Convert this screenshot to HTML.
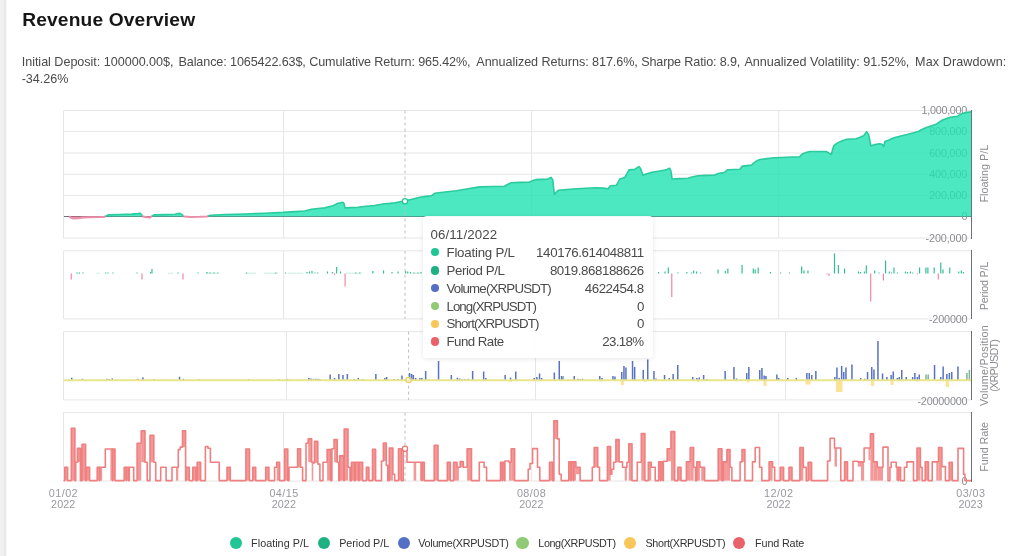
<!DOCTYPE html>
<html lang="en"><head><meta charset="utf-8"><title>Revenue Overview</title>
<style>
html,body{margin:0;padding:0;background:#fff;}
body{width:1024px;height:556px;position:relative;overflow:hidden;font-family:"Liberation Sans",Arial,sans-serif;}
span{white-space:nowrap;}
h1,.stats,.tip,.lg,svg{will-change:transform;}
.strip{position:absolute;left:0;top:0;width:8px;height:556px;background:linear-gradient(to right,#f0f0f0 0,#f0f0f0 3.4px,#e8e8e8 4.2px,#e9e9e9 5.4px,#fff 7.2px);}
h1{position:absolute;left:0;top:8px;width:600px;height:24px;margin:0;font-size:19.2px;line-height:24px;font-weight:bold;color:#161616;}
h1 span{position:absolute;top:0;}
.stats{position:absolute;left:0;top:0;width:1024px;height:100px;margin:0;font-size:12.6px;line-height:16px;color:#4a4a4a;}
.stats span{position:absolute;top:54px;}
.stats span.l2{top:71px;}
.tipbg{position:absolute;left:423px;top:215.7px;width:230px;height:142.8px;background:rgba(255,255,255,0.93);border-radius:4px;box-shadow:0 1px 5px rgba(0,0,0,0.10);}
.tip{position:absolute;left:423px;top:216px;width:230px;height:142px;color:#4a4a4a;font-size:13.3px;}
.tip span{position:absolute;line-height:17px;}
.tip i{position:absolute;left:7.9px;width:8.6px;height:8.6px;border-radius:50%;}
.tip b{font-weight:normal;}
.lg{position:absolute;left:0;top:0;width:1024px;height:556px;font-size:10.8px;color:#333;pointer-events:none;}
.lg i{position:absolute;top:537px;width:12.2px;height:12.2px;border-radius:50%;}
.lg span{position:absolute;top:535.4px;line-height:16px;}
</style></head><body>
<div class="strip"></div>
<h1><span id="t_title" style="left:22.2px;letter-spacing:0.15px;">Revenue Overview</span></h1>
<p class="stats"><span id="t_s1" style="left:21.7px;letter-spacing:-0.03px;">Initial Deposit: 100000.00$,</span>
<span id="t_s2" style="left:178.5px;letter-spacing:-0.11px;">Balance: 1065422.63$,</span>
<span id="t_s3" style="left:309.2px;letter-spacing:-0.12px;">Cumulative Return: 965.42%,</span>
<span id="t_s4" style="left:476.3px;letter-spacing:-0.06px;">Annualized Returns: 817.6%,</span>
<span id="t_s5" style="left:641.2px;letter-spacing:-0.14px;">Sharpe Ratio: 8.9,</span>
<span id="t_s6" style="left:744.4px;letter-spacing:-0.01px;">Annualized Volatility: 91.52%,</span>
<span id="t_s7" style="left:915.1px;letter-spacing:0.08px;">Max Drawdown:</span>
<span class="l2" id="t_s8" style="left:21.7px;letter-spacing:-0.04px;">-34.26%</span></p>
<svg width="1024" height="556" viewBox="0 0 1024 556" style="position:absolute;left:0;top:0">
<g stroke="#e6e6e7" stroke-width="1" fill="none">
<line x1="63.5" x2="971" y1="110.5" y2="110.5"/>
<line x1="63.5" x2="971" y1="131.4" y2="131.4"/>
<line x1="63.5" x2="971" y1="153" y2="153"/>
<line x1="63.5" x2="971" y1="174.3" y2="174.3"/>
<line x1="63.5" x2="971" y1="195.4" y2="195.4"/>
<line x1="63.5" x2="971" y1="216.5" y2="216.5"/>
<line x1="63.5" x2="971" y1="238" y2="238"/>
<line x1="63.5" x2="63.5" y1="110.5" y2="238"/>
<line x1="283.6" x2="283.6" y1="110.5" y2="238"/>
<line x1="531.6" x2="531.6" y1="110.5" y2="238"/>
<line x1="778.7" x2="778.7" y1="110.5" y2="238"/>
<line x1="63.5" x2="63.5" y1="250.8" y2="318.9"/>
<line x1="283.6" x2="283.6" y1="250.8" y2="318.9"/>
<line x1="531.6" x2="531.6" y1="250.8" y2="318.9"/>
<line x1="778.7" x2="778.7" y1="250.8" y2="318.9"/>
<line x1="63.5" x2="63.5" y1="331.6" y2="399.9"/>
<line x1="286.5" x2="286.5" y1="331.6" y2="399.9"/>
<line x1="535.5" x2="535.5" y1="331.6" y2="399.9"/>
<line x1="785.5" x2="785.5" y1="331.6" y2="399.9"/>
<line x1="63.5" x2="63.5" y1="412.6" y2="481"/>
<line x1="283.6" x2="283.6" y1="412.6" y2="481"/>
<line x1="531.6" x2="531.6" y1="412.6" y2="481"/>
<line x1="778.7" x2="778.7" y1="412.6" y2="481"/>
<line x1="63.5" x2="971" y1="250.8" y2="250.8"/>
<line x1="63.5" x2="971" y1="318.9" y2="318.9"/>
<line x1="63.5" x2="971" y1="331.6" y2="331.6"/>
<line x1="63.5" x2="971" y1="399.9" y2="399.9"/>
<line x1="63.5" x2="971" y1="412.6" y2="412.6"/>
<line x1="63.5" x2="971" y1="481" y2="481"/>
</g>
<g stroke="#6E7079" stroke-width="1" shape-rendering="crispEdges">
<line x1="971.5" x2="971.5" y1="110" y2="238.5"/>
<line x1="971.5" x2="971.5" y1="250.3" y2="319.4"/>
<line x1="971.5" x2="971.5" y1="331.1" y2="400.4"/>
<line x1="971.5" x2="971.5" y1="412.1" y2="481.5"/>
<line x1="63.5" x2="971" y1="216.4" y2="216.4"/>
</g>
<g font-family="Liberation Sans, Arial, sans-serif" font-size="10.8" fill="#8b8c91">
<text x="921.6" y="114.3" textLength="45.7" lengthAdjust="spacing">1,000,000</text>
<text x="929.2" y="135.2" textLength="38.1" lengthAdjust="spacing">800,000</text>
<text x="929.2" y="156.8" textLength="38.1" lengthAdjust="spacing">600,000</text>
<text x="929.2" y="178.1" textLength="38.1" lengthAdjust="spacing">400,000</text>
<text x="929.2" y="199.2" textLength="38.1" lengthAdjust="spacing">200,000</text>
<text x="961.6" y="220.3" textLength="5.7" lengthAdjust="spacing">0</text>
<text x="925.6" y="241.8" textLength="41.7" lengthAdjust="spacing">-200,000</text>
<text x="928.9" y="323.2" textLength="38.7" lengthAdjust="spacing">-200000</text>
<text x="917.4" y="404.5" textLength="50.2" lengthAdjust="spacing">-20000000</text>
<text x="961.6" y="484.6" textLength="5.7" lengthAdjust="spacing">0</text>
</g>
<g font-family="Liberation Sans, Arial, sans-serif" font-size="10.8" fill="#8b8c91">
<text transform="translate(988,202.6) rotate(-90)" textLength="57.8" lengthAdjust="spacing">Floating P/L</text>
<text transform="translate(988,310.15) rotate(-90)" textLength="48.5" lengthAdjust="spacing">Period P/L</text>
<text transform="translate(988,406.1) rotate(-90)" textLength="80.8" lengthAdjust="spacing">Volume/Position</text>
<text transform="translate(997.8,391.7) rotate(-90)" textLength="52.6" lengthAdjust="spacing">(XRPUSDT)</text>
<text transform="translate(987.8,471.7) rotate(-90)" textLength="49.8" lengthAdjust="spacing">Fund Rate</text>
</g>
<g font-family="Liberation Sans, Arial, sans-serif" font-size="10.8" fill="#98999e">
<text x="48.8" y="496.9" textLength="28.8" lengthAdjust="spacing">01/02</text>
<text x="51.1" y="508" textLength="24.2" lengthAdjust="spacing">2022</text>
<text x="269.4" y="496.9" textLength="28.8" lengthAdjust="spacing">04/15</text>
<text x="271.7" y="508" textLength="24.2" lengthAdjust="spacing">2022</text>
<text x="516.9" y="496.9" textLength="28.8" lengthAdjust="spacing">08/08</text>
<text x="519.2" y="508" textLength="24.2" lengthAdjust="spacing">2022</text>
<text x="764.1" y="496.9" textLength="28.8" lengthAdjust="spacing">12/02</text>
<text x="766.4" y="508" textLength="24.2" lengthAdjust="spacing">2022</text>
<text x="956.2" y="496.9" textLength="28.8" lengthAdjust="spacing">03/03</text>
<text x="958.5" y="508" textLength="24.2" lengthAdjust="spacing">2023</text>
</g>
<defs><clipPath id="cp"><rect x="105.4" y="90" width="37" height="160"/><rect x="152" y="90" width="31.4" height="160"/><rect x="208.2" y="90" width="815.8" height="160"/></clipPath><clipPath id="cn"><rect x="69" y="90" width="36.4" height="160"/><rect x="142.4" y="90" width="9.6" height="160"/><rect x="183.4" y="90" width="24.8" height="160"/></clipPath></defs>
<g clip-path="url(#cp)"><path d="M63.5,216.4 L63.5,216.4 L66,216.4 L69,216.6 L71,217.7 L73.5,218.5 L78,218.3 L83,217.6 L90,217.3 L100,217.1 L104.3,216.9 L105.5,216.2 L108,214.9 L120,214.5 L132,214.1 L138,213.6 L140,213.2 L141.5,214.5 L143,216.6 L147,217.2 L150,217.4 L152,216.2 L154,214.9 L165,214.6 L175,214.2 L178,213.5 L180,213.3 L182,214.6 L184,216.4 L190,216.9 L200,216.8 L207,216.5 L209,215.6 L215,215 L225,214.5 L245,214 L265,213.2 L283,212.4 L295,211.6 L304.7,211 L311.4,209.2 L318,208.5 L324.7,207.9 L329,206.8 L333,205.7 L336,204.2 L338,203.2 L343,202.4 L344,203.5 L345,207.9 L350,207.6 L358,207.2 L366,206.3 L374.5,205.5 L380,204.5 L384.5,203.7 L390,203.4 L395,202.9 L400,201.8 L405,200.9 L412,199.2 L420,197.3 L426,196.4 L431.5,195.7 L433,194.6 L434.9,193.2 L445,192 L456.4,190.7 L468,188.7 L479.7,186.9 L492,186.5 L504.6,186.2 L508,184.2 L511.3,182.7 L520,182.4 L529.5,182.1 L533,180.6 L536.2,179.6 L542,179.4 L547.8,179.2 L549.5,178.1 L551.1,177.4 L552.8,179.9 L553.6,188 L554.5,194.5 L556,192.5 L558.3,190.3 L567,189.5 L576.6,188.7 L586,188.2 L596.5,187.7 L603,188.1 L608.2,188.7 L609.4,187 L610.6,185.7 L616.5,185.2 L618,182.5 L619.8,179 L624.8,177.4 L626.5,174.5 L628.9,169.9 L634.7,169.4 L637,167.8 L638.9,166.6 L640.5,168.2 L641.8,171.9 L643,175.2 L646,174 L649.7,172.9 L655,171.8 L661.3,170.7 L666.3,169.9 L668,168.8 L669.6,168.2 L670.8,170.7 L671.5,175 L672.1,179 L680,178.6 L687.9,178.2 L693,176.8 L697.9,175.7 L706,175.4 L714.5,175.2 L717,174.1 L719.5,173.2 L725,172.3 L726,171 L727.5,169.8 L734,169.5 L740,169.3 L741.2,167.5 L742.4,166.1 L747,165.6 L751.6,165.1 L753.6,163.2 L755.7,161.5 L759.9,159.5 L767,158.6 L774.8,157.8 L787,157.3 L799.7,156.8 L801,155.2 L802.2,154 L806,152.6 L809.7,151.5 L818,151.5 L826.3,151.5 L829,153.1 L831.3,154.5 L832.5,150 L833.8,145.7 L836.5,143.6 L839.6,141.9 L843,140.5 L846.2,139.4 L851,139 L856.2,138.7 L860,137.3 L863.7,135.7 L865.3,133.5 L866.5,131.6 L868.7,134.9 L869.8,140.5 L870.8,145.7 L875,144.6 L879.5,143.7 L882,144.3 L883.8,146.4 L884.9,141.5 L889,139.9 L894,137.8 L900,136.2 L907,134.5 L913,132.9 L918.8,131.3 L922.5,129.3 L926.4,127.5 L931,125.9 L936.1,124.3 L939.5,122 L942.6,120 L946.5,118.5 L950.1,117.3 L954,116.7 L957.7,116.2 L960,114.7 L962,113.5 L966,112.6 L971,111.9 L971,216.4 Z" fill="#24e3b3" fill-opacity="0.82"/><path d="M63.5,216.4 L66,216.4 L69,216.6 L71,217.7 L73.5,218.5 L78,218.3 L83,217.6 L90,217.3 L100,217.1 L104.3,216.9 L105.5,216.2 L108,214.9 L120,214.5 L132,214.1 L138,213.6 L140,213.2 L141.5,214.5 L143,216.6 L147,217.2 L150,217.4 L152,216.2 L154,214.9 L165,214.6 L175,214.2 L178,213.5 L180,213.3 L182,214.6 L184,216.4 L190,216.9 L200,216.8 L207,216.5 L209,215.6 L215,215 L225,214.5 L245,214 L265,213.2 L283,212.4 L295,211.6 L304.7,211 L311.4,209.2 L318,208.5 L324.7,207.9 L329,206.8 L333,205.7 L336,204.2 L338,203.2 L343,202.4 L344,203.5 L345,207.9 L350,207.6 L358,207.2 L366,206.3 L374.5,205.5 L380,204.5 L384.5,203.7 L390,203.4 L395,202.9 L400,201.8 L405,200.9 L412,199.2 L420,197.3 L426,196.4 L431.5,195.7 L433,194.6 L434.9,193.2 L445,192 L456.4,190.7 L468,188.7 L479.7,186.9 L492,186.5 L504.6,186.2 L508,184.2 L511.3,182.7 L520,182.4 L529.5,182.1 L533,180.6 L536.2,179.6 L542,179.4 L547.8,179.2 L549.5,178.1 L551.1,177.4 L552.8,179.9 L553.6,188 L554.5,194.5 L556,192.5 L558.3,190.3 L567,189.5 L576.6,188.7 L586,188.2 L596.5,187.7 L603,188.1 L608.2,188.7 L609.4,187 L610.6,185.7 L616.5,185.2 L618,182.5 L619.8,179 L624.8,177.4 L626.5,174.5 L628.9,169.9 L634.7,169.4 L637,167.8 L638.9,166.6 L640.5,168.2 L641.8,171.9 L643,175.2 L646,174 L649.7,172.9 L655,171.8 L661.3,170.7 L666.3,169.9 L668,168.8 L669.6,168.2 L670.8,170.7 L671.5,175 L672.1,179 L680,178.6 L687.9,178.2 L693,176.8 L697.9,175.7 L706,175.4 L714.5,175.2 L717,174.1 L719.5,173.2 L725,172.3 L726,171 L727.5,169.8 L734,169.5 L740,169.3 L741.2,167.5 L742.4,166.1 L747,165.6 L751.6,165.1 L753.6,163.2 L755.7,161.5 L759.9,159.5 L767,158.6 L774.8,157.8 L787,157.3 L799.7,156.8 L801,155.2 L802.2,154 L806,152.6 L809.7,151.5 L818,151.5 L826.3,151.5 L829,153.1 L831.3,154.5 L832.5,150 L833.8,145.7 L836.5,143.6 L839.6,141.9 L843,140.5 L846.2,139.4 L851,139 L856.2,138.7 L860,137.3 L863.7,135.7 L865.3,133.5 L866.5,131.6 L868.7,134.9 L869.8,140.5 L870.8,145.7 L875,144.6 L879.5,143.7 L882,144.3 L883.8,146.4 L884.9,141.5 L889,139.9 L894,137.8 L900,136.2 L907,134.5 L913,132.9 L918.8,131.3 L922.5,129.3 L926.4,127.5 L931,125.9 L936.1,124.3 L939.5,122 L942.6,120 L946.5,118.5 L950.1,117.3 L954,116.7 L957.7,116.2 L960,114.7 L962,113.5 L966,112.6 L971,111.9" fill="none" stroke="#2ccb9e" stroke-width="1.6" stroke-linejoin="round"/></g>
<g clip-path="url(#cn)"><path d="M63.5,216.4 L63.5,216.4 L66,216.4 L69,216.6 L71,217.7 L73.5,218.5 L78,218.3 L83,217.6 L90,217.3 L100,217.1 L104.3,216.9 L105.5,216.2 L108,214.9 L120,214.5 L132,214.1 L138,213.6 L140,213.2 L141.5,214.5 L143,216.6 L147,217.2 L150,217.4 L152,216.2 L154,214.9 L165,214.6 L175,214.2 L178,213.5 L180,213.3 L182,214.6 L184,216.4 L190,216.9 L200,216.8 L207,216.5 L209,215.6 L215,215 L225,214.5 L245,214 L265,213.2 L283,212.4 L295,211.6 L304.7,211 L311.4,209.2 L318,208.5 L324.7,207.9 L329,206.8 L333,205.7 L336,204.2 L338,203.2 L343,202.4 L344,203.5 L345,207.9 L350,207.6 L358,207.2 L366,206.3 L374.5,205.5 L380,204.5 L384.5,203.7 L390,203.4 L395,202.9 L400,201.8 L405,200.9 L412,199.2 L420,197.3 L426,196.4 L431.5,195.7 L433,194.6 L434.9,193.2 L445,192 L456.4,190.7 L468,188.7 L479.7,186.9 L492,186.5 L504.6,186.2 L508,184.2 L511.3,182.7 L520,182.4 L529.5,182.1 L533,180.6 L536.2,179.6 L542,179.4 L547.8,179.2 L549.5,178.1 L551.1,177.4 L552.8,179.9 L553.6,188 L554.5,194.5 L556,192.5 L558.3,190.3 L567,189.5 L576.6,188.7 L586,188.2 L596.5,187.7 L603,188.1 L608.2,188.7 L609.4,187 L610.6,185.7 L616.5,185.2 L618,182.5 L619.8,179 L624.8,177.4 L626.5,174.5 L628.9,169.9 L634.7,169.4 L637,167.8 L638.9,166.6 L640.5,168.2 L641.8,171.9 L643,175.2 L646,174 L649.7,172.9 L655,171.8 L661.3,170.7 L666.3,169.9 L668,168.8 L669.6,168.2 L670.8,170.7 L671.5,175 L672.1,179 L680,178.6 L687.9,178.2 L693,176.8 L697.9,175.7 L706,175.4 L714.5,175.2 L717,174.1 L719.5,173.2 L725,172.3 L726,171 L727.5,169.8 L734,169.5 L740,169.3 L741.2,167.5 L742.4,166.1 L747,165.6 L751.6,165.1 L753.6,163.2 L755.7,161.5 L759.9,159.5 L767,158.6 L774.8,157.8 L787,157.3 L799.7,156.8 L801,155.2 L802.2,154 L806,152.6 L809.7,151.5 L818,151.5 L826.3,151.5 L829,153.1 L831.3,154.5 L832.5,150 L833.8,145.7 L836.5,143.6 L839.6,141.9 L843,140.5 L846.2,139.4 L851,139 L856.2,138.7 L860,137.3 L863.7,135.7 L865.3,133.5 L866.5,131.6 L868.7,134.9 L869.8,140.5 L870.8,145.7 L875,144.6 L879.5,143.7 L882,144.3 L883.8,146.4 L884.9,141.5 L889,139.9 L894,137.8 L900,136.2 L907,134.5 L913,132.9 L918.8,131.3 L922.5,129.3 L926.4,127.5 L931,125.9 L936.1,124.3 L939.5,122 L942.6,120 L946.5,118.5 L950.1,117.3 L954,116.7 L957.7,116.2 L960,114.7 L962,113.5 L966,112.6 L971,111.9 L971,216.4 Z" fill="#f0698c" fill-opacity="0.75"/><path d="M63.5,216.4 L66,216.4 L69,216.6 L71,217.7 L73.5,218.5 L78,218.3 L83,217.6 L90,217.3 L100,217.1 L104.3,216.9 L105.5,216.2 L108,214.9 L120,214.5 L132,214.1 L138,213.6 L140,213.2 L141.5,214.5 L143,216.6 L147,217.2 L150,217.4 L152,216.2 L154,214.9 L165,214.6 L175,214.2 L178,213.5 L180,213.3 L182,214.6 L184,216.4 L190,216.9 L200,216.8 L207,216.5 L209,215.6 L215,215 L225,214.5 L245,214 L265,213.2 L283,212.4 L295,211.6 L304.7,211 L311.4,209.2 L318,208.5 L324.7,207.9 L329,206.8 L333,205.7 L336,204.2 L338,203.2 L343,202.4 L344,203.5 L345,207.9 L350,207.6 L358,207.2 L366,206.3 L374.5,205.5 L380,204.5 L384.5,203.7 L390,203.4 L395,202.9 L400,201.8 L405,200.9 L412,199.2 L420,197.3 L426,196.4 L431.5,195.7 L433,194.6 L434.9,193.2 L445,192 L456.4,190.7 L468,188.7 L479.7,186.9 L492,186.5 L504.6,186.2 L508,184.2 L511.3,182.7 L520,182.4 L529.5,182.1 L533,180.6 L536.2,179.6 L542,179.4 L547.8,179.2 L549.5,178.1 L551.1,177.4 L552.8,179.9 L553.6,188 L554.5,194.5 L556,192.5 L558.3,190.3 L567,189.5 L576.6,188.7 L586,188.2 L596.5,187.7 L603,188.1 L608.2,188.7 L609.4,187 L610.6,185.7 L616.5,185.2 L618,182.5 L619.8,179 L624.8,177.4 L626.5,174.5 L628.9,169.9 L634.7,169.4 L637,167.8 L638.9,166.6 L640.5,168.2 L641.8,171.9 L643,175.2 L646,174 L649.7,172.9 L655,171.8 L661.3,170.7 L666.3,169.9 L668,168.8 L669.6,168.2 L670.8,170.7 L671.5,175 L672.1,179 L680,178.6 L687.9,178.2 L693,176.8 L697.9,175.7 L706,175.4 L714.5,175.2 L717,174.1 L719.5,173.2 L725,172.3 L726,171 L727.5,169.8 L734,169.5 L740,169.3 L741.2,167.5 L742.4,166.1 L747,165.6 L751.6,165.1 L753.6,163.2 L755.7,161.5 L759.9,159.5 L767,158.6 L774.8,157.8 L787,157.3 L799.7,156.8 L801,155.2 L802.2,154 L806,152.6 L809.7,151.5 L818,151.5 L826.3,151.5 L829,153.1 L831.3,154.5 L832.5,150 L833.8,145.7 L836.5,143.6 L839.6,141.9 L843,140.5 L846.2,139.4 L851,139 L856.2,138.7 L860,137.3 L863.7,135.7 L865.3,133.5 L866.5,131.6 L868.7,134.9 L869.8,140.5 L870.8,145.7 L875,144.6 L879.5,143.7 L882,144.3 L883.8,146.4 L884.9,141.5 L889,139.9 L894,137.8 L900,136.2 L907,134.5 L913,132.9 L918.8,131.3 L922.5,129.3 L926.4,127.5 L931,125.9 L936.1,124.3 L939.5,122 L942.6,120 L946.5,118.5 L950.1,117.3 L954,116.7 L957.7,116.2 L960,114.7 L962,113.5 L966,112.6 L971,111.9" fill="none" stroke="#ee8eab" stroke-width="2" stroke-linejoin="round"/></g>
<g>
<path d="M76.6,273.2 H80 M96.5,273.2 H100 M168,273.2 H173 M206,273.2 H218 M245.5,273.2 H256 M264,273.2 H277.7 M287.5,273.2 H303 M346,273.2 H361.7 M412.5,273.2 H420" stroke="#c4eadd" stroke-width="0.9" fill="none"/>
<rect x="70.7" y="273.5" width="1.15" height="6" fill="#ef839d"/>
<rect x="76.4" y="272.5" width="1.15" height="1" fill="#2bbd93"/>
<rect x="78.9" y="272.5" width="1.15" height="1" fill="#2bbd93"/>
<rect x="82.4" y="272.5" width="1.15" height="1" fill="#2bbd93"/>
<rect x="105.1" y="272.5" width="1.15" height="1" fill="#2bbd93"/>
<rect x="107.4" y="272.5" width="1.15" height="1" fill="#2bbd93"/>
<rect x="112.4" y="272.5" width="1.15" height="1" fill="#2bbd93"/>
<rect x="136.4" y="272.5" width="1.15" height="1" fill="#2bbd93"/>
<rect x="141.4" y="273.5" width="1.15" height="6" fill="#ef839d"/>
<rect x="149.9" y="272" width="1.15" height="1.5" fill="#2bbd93"/>
<rect x="151.4" y="269" width="1.15" height="4.5" fill="#2bbd93"/>
<rect x="177.4" y="272.5" width="1.15" height="1" fill="#2bbd93"/>
<rect x="182.4" y="273.5" width="1.15" height="6" fill="#ef839d"/>
<rect x="197.4" y="272.5" width="1.15" height="1" fill="#2bbd93"/>
<rect x="206.4" y="272" width="1.15" height="1.5" fill="#2bbd93"/>
<rect x="209.4" y="272.5" width="1.15" height="1" fill="#2bbd93"/>
<rect x="213.4" y="272.5" width="1.15" height="1" fill="#2bbd93"/>
<rect x="217.4" y="272.5" width="1.15" height="1" fill="#2bbd93"/>
<rect x="245.9" y="272.5" width="1.15" height="1" fill="#2bbd93"/>
<rect x="275.2" y="272.5" width="1.15" height="1" fill="#2bbd93"/>
<rect x="284.9" y="272.5" width="1.15" height="1" fill="#2bbd93"/>
<rect x="306.4" y="272" width="1.15" height="1.5" fill="#2bbd93"/>
<rect x="308.9" y="271.5" width="1.15" height="2" fill="#2bbd93"/>
<rect x="311.4" y="271" width="1.15" height="2.5" fill="#2bbd93"/>
<rect x="314.4" y="272.5" width="1.15" height="1" fill="#2bbd93"/>
<rect x="317.2" y="272.5" width="1.15" height="1" fill="#2bbd93"/>
<rect x="326.9" y="271.5" width="1.15" height="2" fill="#2bbd93"/>
<rect x="331.8" y="272" width="1.15" height="1.5" fill="#2bbd93"/>
<rect x="334" y="273.5" width="1.15" height="1.5" fill="#ef839d"/>
<rect x="336.1" y="267" width="1.15" height="6.5" fill="#2bbd93"/>
<rect x="340" y="271.5" width="1.15" height="2" fill="#2bbd93"/>
<rect x="344.5" y="273.5" width="1.15" height="13" fill="#ef839d"/>
<rect x="355.3" y="272.5" width="1.15" height="1" fill="#2bbd93"/>
<rect x="359.2" y="272.5" width="1.15" height="1" fill="#2bbd93"/>
<rect x="372.3" y="271" width="1.15" height="2.5" fill="#2bbd93"/>
<rect x="383" y="270.5" width="1.15" height="3" fill="#2bbd93"/>
<rect x="391.4" y="272" width="1.15" height="1.5" fill="#2bbd93"/>
<rect x="397.6" y="271.5" width="1.15" height="2" fill="#2bbd93"/>
<rect x="405.1" y="271" width="1.15" height="2.5" fill="#2bbd93"/>
<rect x="407.2" y="271.5" width="1.15" height="2" fill="#2bbd93"/>
<rect x="409.9" y="272" width="1.15" height="1.5" fill="#2bbd93"/>
<rect x="413.4" y="272.5" width="1.15" height="1" fill="#2bbd93"/>
<rect x="417.4" y="272.5" width="1.15" height="1" fill="#2bbd93"/>
<rect x="420.4" y="272" width="1.15" height="1.5" fill="#2bbd93"/>
<rect x="658" y="272" width="1.15" height="1.5" fill="#2bbd93"/>
<rect x="664.4" y="271.5" width="1.15" height="2" fill="#2bbd93"/>
<rect x="667.7" y="267.5" width="1.15" height="6" fill="#2bbd93"/>
<rect x="671.2" y="273.5" width="1.15" height="23.5" fill="#ef839d"/>
<rect x="677.4" y="272.5" width="1.15" height="1" fill="#2bbd93"/>
<rect x="686.3" y="272" width="1.15" height="1.5" fill="#2bbd93"/>
<rect x="690.9" y="272.5" width="1.15" height="1" fill="#2bbd93"/>
<rect x="693.1" y="270.5" width="1.15" height="3" fill="#2bbd93"/>
<rect x="696" y="271.5" width="1.15" height="2" fill="#2bbd93"/>
<rect x="699.9" y="272.5" width="1.15" height="1" fill="#2bbd93"/>
<rect x="717.5" y="269.5" width="1.15" height="4" fill="#2bbd93"/>
<rect x="724.8" y="271" width="1.15" height="2.5" fill="#2bbd93"/>
<rect x="727.3" y="268.5" width="1.15" height="5" fill="#2bbd93"/>
<rect x="741.5" y="265" width="1.15" height="8.5" fill="#2bbd93"/>
<rect x="752.7" y="268.5" width="1.15" height="5" fill="#2bbd93"/>
<rect x="754.6" y="269.5" width="1.15" height="4" fill="#2bbd93"/>
<rect x="757.6" y="267.5" width="1.15" height="6" fill="#2bbd93"/>
<rect x="769.9" y="272" width="1.15" height="1.5" fill="#2bbd93"/>
<rect x="780" y="272.5" width="1.15" height="1" fill="#2bbd93"/>
<rect x="788.8" y="272.5" width="1.15" height="1" fill="#2bbd93"/>
<rect x="801.1" y="266.5" width="1.15" height="7" fill="#2bbd93"/>
<rect x="803.4" y="270.5" width="1.15" height="3" fill="#2bbd93"/>
<rect x="807.4" y="270.5" width="1.15" height="3" fill="#2bbd93"/>
<rect x="826.4" y="273.5" width="1.15" height="1" fill="#ef839d"/>
<rect x="828.4" y="273.5" width="1.15" height="2.5" fill="#ef839d"/>
<rect x="833.9" y="253.5" width="1.15" height="20" fill="#2bbd93"/>
<rect x="837.8" y="265" width="1.15" height="8.5" fill="#2bbd93"/>
<rect x="844" y="268.5" width="1.15" height="5" fill="#2bbd93"/>
<rect x="857.9" y="271.5" width="1.15" height="2" fill="#2bbd93"/>
<rect x="859.9" y="272" width="1.15" height="1.5" fill="#2bbd93"/>
<rect x="863.8" y="271.5" width="1.15" height="2" fill="#2bbd93"/>
<rect x="865.7" y="265.5" width="1.15" height="8" fill="#2bbd93"/>
<rect x="870.1" y="273.5" width="1.15" height="28" fill="#ef839d"/>
<rect x="874.1" y="270.5" width="1.15" height="3" fill="#2bbd93"/>
<rect x="878.4" y="272.5" width="1.15" height="1" fill="#2bbd93"/>
<rect x="882.8" y="273.5" width="1.15" height="7" fill="#ef839d"/>
<rect x="885" y="260.5" width="1.15" height="13" fill="#2bbd93"/>
<rect x="888.7" y="271.5" width="1.15" height="2" fill="#2bbd93"/>
<rect x="890.9" y="272.5" width="1.15" height="1" fill="#2bbd93"/>
<rect x="893.4" y="267.5" width="1.15" height="6" fill="#2bbd93"/>
<rect x="896.8" y="272.5" width="1.15" height="1" fill="#2bbd93"/>
<rect x="904.8" y="271.5" width="1.15" height="2" fill="#2bbd93"/>
<rect x="906.9" y="272" width="1.15" height="1.5" fill="#2bbd93"/>
<rect x="909.9" y="271.5" width="1.15" height="2" fill="#2bbd93"/>
<rect x="912.2" y="272.5" width="1.15" height="1" fill="#2bbd93"/>
<rect x="916.9" y="273.5" width="1.15" height="1" fill="#ef839d"/>
<rect x="919" y="267.5" width="1.15" height="6" fill="#2bbd93"/>
<rect x="925.3" y="267.5" width="1.15" height="6" fill="#2bbd93"/>
<rect x="927.3" y="267.5" width="1.15" height="6" fill="#2bbd93"/>
<rect x="933.6" y="267.5" width="1.15" height="6" fill="#2bbd93"/>
<rect x="937.7" y="273.5" width="1.15" height="6" fill="#ef839d"/>
<rect x="940.2" y="262.5" width="1.15" height="11" fill="#2bbd93"/>
<rect x="942.4" y="269.5" width="1.15" height="4" fill="#2bbd93"/>
<rect x="949.2" y="267.5" width="1.15" height="6" fill="#2bbd93"/>
<rect x="958.2" y="271.5" width="1.15" height="2" fill="#2bbd93"/>
<rect x="960.7" y="270.5" width="1.15" height="3" fill="#2bbd93"/>
<rect x="962.8" y="272" width="1.15" height="1.5" fill="#2bbd93"/>
</g>
<g>
<rect x="509.2" y="380" width="2.5" height="2" fill="#fad567" fill-opacity="0.7"/>
<rect x="599.8" y="380" width="2.5" height="1.5" fill="#fad567" fill-opacity="0.7"/>
<rect x="620.8" y="380" width="3" height="5" fill="#fad567" fill-opacity="0.7"/>
<rect x="643.8" y="380" width="2.5" height="2" fill="#fad567" fill-opacity="0.7"/>
<rect x="696.8" y="380" width="2.5" height="2" fill="#fad567" fill-opacity="0.7"/>
<rect x="746.8" y="380" width="2.5" height="2.5" fill="#fad567" fill-opacity="0.7"/>
<rect x="763.5" y="380" width="3" height="6" fill="#fad567" fill-opacity="0.7"/>
<rect x="805.5" y="380" width="5" height="4.5" fill="#fad567" fill-opacity="0.7"/>
<rect x="836" y="380" width="6.5" height="12" fill="#fad567" fill-opacity="0.7"/>
<rect x="871" y="380" width="3.2" height="6" fill="#fad567" fill-opacity="0.7"/>
<rect x="890.5" y="380" width="3" height="5" fill="#fad567" fill-opacity="0.7"/>
<rect x="915.8" y="380" width="2.5" height="1.5" fill="#fad567" fill-opacity="0.7"/>
<rect x="945.7" y="380" width="3.2" height="7" fill="#fad567" fill-opacity="0.7"/>
<rect x="71" y="377.8" width="1.5" height="2.2" fill="#5872c5"/>
<rect x="81.8" y="378.8" width="1.5" height="1.2" fill="#5872c5"/>
<rect x="106.2" y="378.8" width="1.5" height="1.2" fill="#5872c5"/>
<rect x="108.2" y="379" width="1.5" height="1" fill="#5872c5"/>
<rect x="111.5" y="378.4" width="1.5" height="1.6" fill="#5872c5"/>
<rect x="137.2" y="378.8" width="1.5" height="1.2" fill="#5872c5"/>
<rect x="142.2" y="377.4" width="1.5" height="2.6" fill="#5872c5"/>
<rect x="153.1" y="379.2" width="1.5" height="0.8" fill="#5872c5"/>
<rect x="178.8" y="376.8" width="1.5" height="3.2" fill="#5872c5"/>
<rect x="182.7" y="378.8" width="1.5" height="1.2" fill="#5872c5"/>
<rect x="197.9" y="379.3" width="1.5" height="0.7" fill="#5872c5"/>
<rect x="247.8" y="379.3" width="1.5" height="0.7" fill="#5872c5"/>
<rect x="278.2" y="379.3" width="1.5" height="0.7" fill="#5872c5"/>
<rect x="286.8" y="379" width="1.5" height="1" fill="#5872c5"/>
<rect x="308.1" y="378" width="1.5" height="2" fill="#5872c5"/>
<rect x="310.2" y="378.5" width="1.5" height="1.5" fill="#5872c5"/>
<rect x="312.8" y="378.8" width="1.5" height="1.2" fill="#5872c5"/>
<rect x="315.2" y="378.8" width="1.5" height="1.2" fill="#5872c5"/>
<rect x="317.2" y="378.8" width="1.5" height="1.2" fill="#5872c5"/>
<rect x="319.2" y="379" width="1.5" height="1" fill="#5872c5"/>
<rect x="329.4" y="374.5" width="1.5" height="5.5" fill="#5872c5"/>
<rect x="333.8" y="378" width="1.5" height="2" fill="#5872c5"/>
<rect x="338.1" y="374" width="1.5" height="6" fill="#5872c5"/>
<rect x="342.2" y="375" width="1.5" height="5" fill="#5872c5"/>
<rect x="346.6" y="374" width="1.5" height="6" fill="#5872c5"/>
<rect x="353.4" y="379" width="1.5" height="1" fill="#5872c5"/>
<rect x="357.6" y="378" width="1.5" height="2" fill="#5872c5"/>
<rect x="361.9" y="379" width="1.5" height="1" fill="#5872c5"/>
<rect x="375.1" y="374" width="1.5" height="6" fill="#5872c5"/>
<rect x="384.1" y="378" width="1.5" height="2" fill="#5872c5"/>
<rect x="385.9" y="377" width="1.5" height="3" fill="#5872c5"/>
<rect x="393.1" y="379" width="1.5" height="1" fill="#5872c5"/>
<rect x="397.2" y="379" width="1.5" height="1" fill="#5872c5"/>
<rect x="401.2" y="375.5" width="1.5" height="4.5" fill="#5872c5"/>
<rect x="408.9" y="373" width="1.5" height="7" fill="#5872c5"/>
<rect x="410.9" y="374" width="1.5" height="6" fill="#5872c5"/>
<rect x="412.6" y="375" width="1.5" height="5" fill="#5872c5"/>
<rect x="414.9" y="378" width="1.5" height="2" fill="#5872c5"/>
<rect x="419.2" y="378" width="1.5" height="2" fill="#5872c5"/>
<rect x="421.1" y="378" width="1.5" height="2" fill="#5872c5"/>
<rect x="424.9" y="371" width="1.5" height="9" fill="#5872c5"/>
<rect x="437.8" y="361" width="1.5" height="19" fill="#5872c5"/>
<rect x="450.6" y="375" width="1.5" height="5" fill="#5872c5"/>
<rect x="456.6" y="377.8" width="1.5" height="2.2" fill="#5872c5"/>
<rect x="458.8" y="378.5" width="1.5" height="1.5" fill="#5872c5"/>
<rect x="461.2" y="379" width="1.5" height="1" fill="#5872c5"/>
<rect x="464.2" y="379" width="1.5" height="1" fill="#5872c5"/>
<rect x="467.6" y="378.8" width="1.5" height="1.2" fill="#5872c5"/>
<rect x="471.9" y="371" width="1.5" height="9" fill="#5872c5"/>
<rect x="482.9" y="371.5" width="1.5" height="8.5" fill="#5872c5"/>
<rect x="485.1" y="378" width="1.5" height="2" fill="#5872c5"/>
<rect x="504.4" y="375" width="1.5" height="5" fill="#5872c5"/>
<rect x="509.8" y="377.5" width="1.5" height="2.5" fill="#5872c5"/>
<rect x="515" y="371.5" width="1.5" height="8.5" fill="#5872c5"/>
<rect x="533.5" y="378" width="1.5" height="2" fill="#5872c5"/>
<rect x="536.1" y="377" width="1.5" height="3" fill="#5872c5"/>
<rect x="538.8" y="373.5" width="1.5" height="6.5" fill="#5872c5"/>
<rect x="540.9" y="378" width="1.5" height="2" fill="#5872c5"/>
<rect x="553.6" y="372.5" width="1.5" height="7.5" fill="#5872c5"/>
<rect x="558.5" y="361" width="1.5" height="19" fill="#5872c5"/>
<rect x="560.8" y="376" width="1.5" height="4" fill="#5872c5"/>
<rect x="562.5" y="376.5" width="1.5" height="3.5" fill="#5872c5"/>
<rect x="573.5" y="376" width="1.5" height="4" fill="#5872c5"/>
<rect x="577.2" y="378.8" width="1.5" height="1.2" fill="#5872c5"/>
<rect x="579.5" y="379" width="1.5" height="1" fill="#5872c5"/>
<rect x="581.9" y="378.8" width="1.5" height="1.2" fill="#5872c5"/>
<rect x="599" y="376" width="1.5" height="4" fill="#5872c5"/>
<rect x="601.2" y="378" width="1.5" height="2" fill="#5872c5"/>
<rect x="612.2" y="376" width="1.5" height="4" fill="#5872c5"/>
<rect x="614.2" y="376.5" width="1.5" height="3.5" fill="#5872c5"/>
<rect x="621" y="372" width="1.5" height="8" fill="#5872c5"/>
<rect x="623.2" y="366" width="1.5" height="14" fill="#5872c5"/>
<rect x="625.2" y="367.5" width="1.5" height="12.5" fill="#5872c5"/>
<rect x="631.8" y="361" width="1.5" height="19" fill="#5872c5"/>
<rect x="633.9" y="367" width="1.5" height="13" fill="#5872c5"/>
<rect x="642.5" y="370" width="1.5" height="10" fill="#5872c5"/>
<rect x="647" y="359.5" width="1.5" height="20.5" fill="#5872c5"/>
<rect x="653.2" y="371" width="1.5" height="9" fill="#5872c5"/>
<rect x="655.2" y="378.5" width="1.5" height="1.5" fill="#5872c5"/>
<rect x="663.8" y="375" width="1.5" height="5" fill="#5872c5"/>
<rect x="668.5" y="378" width="1.5" height="2" fill="#5872c5"/>
<rect x="672.4" y="374" width="1.5" height="6" fill="#5872c5"/>
<rect x="677" y="365" width="1.5" height="15" fill="#5872c5"/>
<rect x="692" y="377" width="1.5" height="3" fill="#5872c5"/>
<rect x="696.1" y="378" width="1.5" height="2" fill="#5872c5"/>
<rect x="698.5" y="377.5" width="1.5" height="2.5" fill="#5872c5"/>
<rect x="702.9" y="375" width="1.5" height="5" fill="#5872c5"/>
<rect x="706.2" y="379" width="1.5" height="1" fill="#5872c5"/>
<rect x="724.4" y="371" width="1.5" height="9" fill="#5872c5"/>
<rect x="733.2" y="367" width="1.5" height="13" fill="#5872c5"/>
<rect x="735.8" y="378.5" width="1.5" height="1.5" fill="#5872c5"/>
<rect x="746" y="373" width="1.5" height="7" fill="#5872c5"/>
<rect x="748.1" y="367" width="1.5" height="13" fill="#5872c5"/>
<rect x="759" y="370" width="1.5" height="10" fill="#5872c5"/>
<rect x="761.2" y="368" width="1.5" height="12" fill="#5872c5"/>
<rect x="763.4" y="375.5" width="1.5" height="4.5" fill="#5872c5"/>
<rect x="765.2" y="376" width="1.5" height="4" fill="#5872c5"/>
<rect x="776.1" y="374.5" width="1.5" height="5.5" fill="#5872c5"/>
<rect x="778" y="378" width="1.5" height="2" fill="#5872c5"/>
<rect x="787" y="378" width="1.5" height="2" fill="#5872c5"/>
<rect x="795.6" y="378" width="1.5" height="2" fill="#5872c5"/>
<rect x="806.1" y="373" width="1.5" height="7" fill="#5872c5"/>
<rect x="808.5" y="373" width="1.5" height="7" fill="#5872c5"/>
<rect x="811" y="375" width="1.5" height="5" fill="#5872c5"/>
<rect x="815.1" y="371" width="1.5" height="9" fill="#5872c5"/>
<rect x="834.1" y="377" width="1.5" height="3" fill="#5872c5"/>
<rect x="836.2" y="367.5" width="1.5" height="12.5" fill="#5872c5"/>
<rect x="838.5" y="378" width="1.5" height="2" fill="#5872c5"/>
<rect x="840.9" y="366" width="1.5" height="14" fill="#5872c5"/>
<rect x="843" y="372" width="1.5" height="8" fill="#5872c5"/>
<rect x="845.2" y="367.5" width="1.5" height="12.5" fill="#5872c5"/>
<rect x="851.2" y="364.5" width="1.5" height="15.5" fill="#5872c5"/>
<rect x="859.9" y="378" width="1.5" height="2" fill="#5872c5"/>
<rect x="864.2" y="378.8" width="1.5" height="1.2" fill="#5872c5"/>
<rect x="866.8" y="372" width="1.5" height="8" fill="#5872c5"/>
<rect x="871" y="367" width="1.5" height="13" fill="#5872c5"/>
<rect x="873.2" y="369.5" width="1.5" height="10.5" fill="#5872c5"/>
<rect x="877.2" y="341" width="1.5" height="39" fill="#5872c5"/>
<rect x="881.8" y="373.5" width="1.5" height="6.5" fill="#5872c5"/>
<rect x="886.1" y="377" width="1.5" height="3" fill="#5872c5"/>
<rect x="890.4" y="375" width="1.5" height="5" fill="#5872c5"/>
<rect x="892.5" y="371.5" width="1.5" height="8.5" fill="#5872c5"/>
<rect x="896.6" y="378" width="1.5" height="2" fill="#5872c5"/>
<rect x="898.5" y="377" width="1.5" height="3" fill="#5872c5"/>
<rect x="901" y="370" width="1.5" height="10" fill="#5872c5"/>
<rect x="905.5" y="377" width="1.5" height="3" fill="#5872c5"/>
<rect x="911.9" y="377" width="1.5" height="3" fill="#5872c5"/>
<rect x="914.1" y="373" width="1.5" height="7" fill="#5872c5"/>
<rect x="916.6" y="377" width="1.5" height="3" fill="#5872c5"/>
<rect x="918.5" y="374.5" width="1.5" height="5.5" fill="#5872c5"/>
<rect x="933.8" y="365" width="1.5" height="15" fill="#5872c5"/>
<rect x="940" y="377" width="1.5" height="3" fill="#5872c5"/>
<rect x="942.4" y="366.5" width="1.5" height="13.5" fill="#5872c5"/>
<rect x="946.1" y="374" width="1.5" height="6" fill="#5872c5"/>
<rect x="948.6" y="373" width="1.5" height="7" fill="#5872c5"/>
<rect x="951" y="372" width="1.5" height="8" fill="#5872c5"/>
<rect x="957.2" y="366.5" width="1.5" height="13.5" fill="#5872c5"/>
<rect x="562.4" y="376.5" width="1.6" height="3.5" fill="#86b89a"/>
<rect x="925.2" y="374.5" width="1.6" height="5.5" fill="#86b89a"/>
<rect x="927.4" y="374.5" width="1.6" height="5.5" fill="#86b89a"/>
<rect x="966.1" y="373" width="1.6" height="7" fill="#86b89a"/>
<rect x="968.6" y="370" width="1.6" height="10" fill="#86b89a"/>
<line x1="63.5" x2="971" y1="380.3" y2="380.3" stroke="#e9e58c" stroke-width="2"/>
</g>
<g>
<rect x="64.8" y="467.3" width="2.8" height="13.3" fill="#f18a8a" fill-opacity="0.88"/>
<rect x="71.3" y="428.2" width="3.6" height="52.4" fill="#f18a8a" fill-opacity="0.88"/>
<rect x="77.4" y="448.4" width="3" height="13.8" fill="#f18a8a" fill-opacity="0.88"/>
<rect x="82" y="444.2" width="3.6" height="36.4" fill="#f18a8a" fill-opacity="0.88"/>
<rect x="86.4" y="467.3" width="3.2" height="13.3" fill="#f18a8a" fill-opacity="0.88"/>
<rect x="97.2" y="467.3" width="2.4" height="13.3" fill="#f18a8a" fill-opacity="0.88"/>
<rect x="99.8" y="467.3" width="2.4" height="13.3" fill="#f18a8a" fill-opacity="0.88"/>
<rect x="110.4" y="449" width="2.2" height="31.6" fill="#f18a8a" fill-opacity="0.88"/>
<rect x="112.8" y="449" width="2.2" height="31.6" fill="#f18a8a" fill-opacity="0.88"/>
<rect x="124.2" y="467.3" width="2.1" height="13.3" fill="#f18a8a" fill-opacity="0.88"/>
<rect x="126.5" y="467.3" width="2.1" height="13.3" fill="#f18a8a" fill-opacity="0.88"/>
<rect x="137.1" y="443.3" width="4.1" height="37.3" fill="#f18a8a" fill-opacity="0.88"/>
<rect x="141.2" y="430.7" width="3.8" height="31.5" fill="#f18a8a" fill-opacity="0.88"/>
<rect x="150" y="435.2" width="3.8" height="27" fill="#f18a8a" fill-opacity="0.88"/>
<rect x="176" y="467.3" width="2.3" height="13.3" fill="#f18a8a" fill-opacity="0.88"/>
<rect x="182.5" y="430.7" width="3.1" height="16.4" fill="#f18a8a" fill-opacity="0.88"/>
<rect x="185.9" y="467.3" width="3.4" height="13.3" fill="#f18a8a" fill-opacity="0.88"/>
<rect x="192.8" y="467.3" width="3.1" height="13.3" fill="#f18a8a" fill-opacity="0.88"/>
<rect x="197.2" y="462.2" width="3.4" height="18.4" fill="#f18a8a" fill-opacity="0.88"/>
<rect x="227" y="467.3" width="3.3" height="13.3" fill="#f18a8a" fill-opacity="0.88"/>
<rect x="245.9" y="449" width="3.6" height="31.6" fill="#f18a8a" fill-opacity="0.88"/>
<rect x="252.8" y="467.3" width="2.9" height="13.3" fill="#f18a8a" fill-opacity="0.88"/>
<rect x="265.7" y="467.3" width="3.2" height="13.3" fill="#f18a8a" fill-opacity="0.88"/>
<rect x="276.7" y="462.2" width="2.9" height="18.4" fill="#f18a8a" fill-opacity="0.88"/>
<rect x="284.6" y="449" width="3.2" height="31.6" fill="#f18a8a" fill-opacity="0.88"/>
<rect x="297.6" y="448.8" width="3" height="18.5" fill="#f18a8a" fill-opacity="0.88"/>
<rect x="308.2" y="438.9" width="3.5" height="23.3" fill="#f18a8a" fill-opacity="0.88"/>
<rect x="311.7" y="462.2" width="1.6" height="18.4" fill="#f18a8a" fill-opacity="0.88"/>
<rect x="314.5" y="441.4" width="3.3" height="21.5" fill="#f18a8a" fill-opacity="0.88"/>
<rect x="327.1" y="449.6" width="3.5" height="31" fill="#f18a8a" fill-opacity="0.88"/>
<rect x="334.1" y="439.6" width="3.1" height="22.6" fill="#f18a8a" fill-opacity="0.88"/>
<rect x="339.7" y="455.9" width="4.1" height="24.7" fill="#f18a8a" fill-opacity="0.88"/>
<rect x="344.2" y="429.1" width="3.8" height="51.5" fill="#f18a8a" fill-opacity="0.88"/>
<rect x="351.5" y="462.2" width="2.9" height="18.4" fill="#f18a8a" fill-opacity="0.88"/>
<rect x="355.3" y="462.2" width="3.3" height="18.4" fill="#f18a8a" fill-opacity="0.88"/>
<rect x="359.1" y="462.2" width="3.5" height="18.4" fill="#f18a8a" fill-opacity="0.88"/>
<rect x="366.4" y="467.3" width="2.5" height="13.3" fill="#f18a8a" fill-opacity="0.88"/>
<rect x="372.5" y="449.3" width="3.1" height="31.3" fill="#f18a8a" fill-opacity="0.88"/>
<rect x="383.4" y="443" width="2.9" height="18" fill="#f18a8a" fill-opacity="0.88"/>
<rect x="389.3" y="448" width="3.6" height="32.6" fill="#f18a8a" fill-opacity="0.88"/>
<rect x="398.5" y="448.8" width="2.9" height="31.8" fill="#f18a8a" fill-opacity="0.88"/>
<rect x="413.6" y="462.2" width="2.6" height="18.4" fill="#f18a8a" fill-opacity="0.88"/>
<rect x="420" y="462.2" width="2" height="18.4" fill="#f18a8a" fill-opacity="0.88"/>
<rect x="422.2" y="462.2" width="2.1" height="18.4" fill="#f18a8a" fill-opacity="0.88"/>
<rect x="434.2" y="445.2" width="3.8" height="35.4" fill="#f18a8a" fill-opacity="0.88"/>
<rect x="447.3" y="462.2" width="3" height="18.4" fill="#f18a8a" fill-opacity="0.88"/>
<rect x="453.6" y="462.2" width="3.4" height="18.4" fill="#f18a8a" fill-opacity="0.88"/>
<rect x="457" y="467.3" width="1.9" height="13.3" fill="#f18a8a" fill-opacity="0.88"/>
<rect x="460.2" y="461.6" width="3.1" height="5.7" fill="#f18a8a" fill-opacity="0.88"/>
<rect x="467.1" y="448.8" width="4.4" height="31.8" fill="#f18a8a" fill-opacity="0.88"/>
<rect x="500.5" y="462.2" width="1.8" height="18.4" fill="#f18a8a" fill-opacity="0.88"/>
<rect x="502.5" y="462.2" width="1.9" height="18.4" fill="#f18a8a" fill-opacity="0.88"/>
<rect x="509" y="462.2" width="2.2" height="18.4" fill="#f18a8a" fill-opacity="0.88"/>
<rect x="511.2" y="448.8" width="3.4" height="31.8" fill="#f18a8a" fill-opacity="0.88"/>
<rect x="549.5" y="462.2" width="3.1" height="18.4" fill="#f18a8a" fill-opacity="0.88"/>
<rect x="553.9" y="420.7" width="3.5" height="18.2" fill="#f18a8a" fill-opacity="0.88"/>
<rect x="568.8" y="461.9" width="2.1" height="18.7" fill="#f18a8a" fill-opacity="0.88"/>
<rect x="571.2" y="461.9" width="2.2" height="18.7" fill="#f18a8a" fill-opacity="0.88"/>
<rect x="573.7" y="461.9" width="2.2" height="18.7" fill="#f18a8a" fill-opacity="0.88"/>
<rect x="575.9" y="467.3" width="4.2" height="6.9" fill="#f18a8a" fill-opacity="0.88"/>
<rect x="594.2" y="447.5" width="3.5" height="19.8" fill="#f18a8a" fill-opacity="0.88"/>
<rect x="607.4" y="446.5" width="3.2" height="34.1" fill="#f18a8a" fill-opacity="0.88"/>
<rect x="615.9" y="439.6" width="3.2" height="22.6" fill="#f18a8a" fill-opacity="0.88"/>
<rect x="624.7" y="467.3" width="2.2" height="13.3" fill="#f18a8a" fill-opacity="0.88"/>
<rect x="628.8" y="443.7" width="3.2" height="36.9" fill="#f18a8a" fill-opacity="0.88"/>
<rect x="641.3" y="433.6" width="3.6" height="47" fill="#f18a8a" fill-opacity="0.88"/>
<rect x="648.3" y="462.2" width="2.9" height="18.4" fill="#f18a8a" fill-opacity="0.88"/>
<rect x="658.7" y="461.9" width="2" height="18.7" fill="#f18a8a" fill-opacity="0.88"/>
<rect x="660.9" y="461.9" width="2.1" height="18.7" fill="#f18a8a" fill-opacity="0.88"/>
<rect x="667.2" y="448.8" width="3.7" height="12.5" fill="#f18a8a" fill-opacity="0.88"/>
<rect x="670.9" y="431.6" width="3.8" height="49" fill="#f18a8a" fill-opacity="0.88"/>
<rect x="677.9" y="467.3" width="3.1" height="13.3" fill="#f18a8a" fill-opacity="0.88"/>
<rect x="686.4" y="461.9" width="3.8" height="18.7" fill="#f18a8a" fill-opacity="0.88"/>
<rect x="690.2" y="447.5" width="3.4" height="33.1" fill="#f18a8a" fill-opacity="0.88"/>
<rect x="696.8" y="461.9" width="3.1" height="18.7" fill="#f18a8a" fill-opacity="0.88"/>
<rect x="701.2" y="467.3" width="3.4" height="13.3" fill="#f18a8a" fill-opacity="0.88"/>
<rect x="718.2" y="448.8" width="3.7" height="31.8" fill="#f18a8a" fill-opacity="0.88"/>
<rect x="723.2" y="461.9" width="3.7" height="18.7" fill="#f18a8a" fill-opacity="0.88"/>
<rect x="726.9" y="449.6" width="3.1" height="31" fill="#f18a8a" fill-opacity="0.88"/>
<rect x="742" y="449.6" width="2.9" height="12.3" fill="#f18a8a" fill-opacity="0.88"/>
<rect x="769.1" y="461.9" width="3.5" height="18.7" fill="#f18a8a" fill-opacity="0.88"/>
<rect x="780.2" y="467.3" width="3.4" height="13.3" fill="#f18a8a" fill-opacity="0.88"/>
<rect x="789" y="467.3" width="3" height="13.3" fill="#f18a8a" fill-opacity="0.88"/>
<rect x="799.9" y="447.5" width="3.4" height="33.1" fill="#f18a8a" fill-opacity="0.88"/>
<rect x="808.1" y="462.2" width="3.5" height="18.4" fill="#f18a8a" fill-opacity="0.88"/>
<rect x="834.5" y="448" width="2.5" height="18.6" fill="#f18a8a" fill-opacity="0.88"/>
<rect x="844.6" y="461.9" width="2.9" height="18.7" fill="#f18a8a" fill-opacity="0.88"/>
<rect x="857.8" y="461.9" width="3.2" height="4.7" fill="#f18a8a" fill-opacity="0.88"/>
<rect x="861" y="461.9" width="3.1" height="18.7" fill="#f18a8a" fill-opacity="0.88"/>
<rect x="868.5" y="448" width="1.9" height="12.3" fill="#f18a8a" fill-opacity="0.88"/>
<rect x="870.4" y="433.9" width="3.1" height="46.7" fill="#f18a8a" fill-opacity="0.88"/>
<rect x="873.5" y="461.9" width="3.8" height="18.7" fill="#f18a8a" fill-opacity="0.88"/>
<rect x="877.3" y="467.3" width="5.7" height="13.3" fill="#f18a8a" fill-opacity="0.88"/>
<rect x="896.2" y="467.3" width="2.1" height="13.3" fill="#f18a8a" fill-opacity="0.88"/>
<rect x="898.5" y="467.3" width="2.1" height="13.3" fill="#f18a8a" fill-opacity="0.88"/>
<rect x="917" y="448" width="3.4" height="32.6" fill="#f18a8a" fill-opacity="0.88"/>
<rect x="925.2" y="461.9" width="3.2" height="18.7" fill="#f18a8a" fill-opacity="0.88"/>
<rect x="936.3" y="461.9" width="2.2" height="18.7" fill="#f18a8a" fill-opacity="0.88"/>
<rect x="938.5" y="447.5" width="3.4" height="33.1" fill="#f18a8a" fill-opacity="0.88"/>
<rect x="949.2" y="462.2" width="3.1" height="18.4" fill="#f18a8a" fill-opacity="0.88"/>
<path d="M63.5,480.6 H64.8 V467.3 H67.6 V480.6 H71.3 V428.2 H74.9 V480.6 H75.7 V462.2 H77.4 V448.4 H80.4 V480.6 H82 V444.2 H85.6 V480.6 H86.4 V467.3 H89.6 V480.6 H97.2 V467.3 H99.6 V480.6 H99.8 V467.3 H102.2 V467.3 H105.3 V449 H110.4 V449 H112.6 V480.6 H112.8 V449 H115 V480.6 H124.2 V467.3 H126.3 V480.6 H126.5 V467.3 H128.6 V480.6 H129.3 V467.3 H133.7 V480.6 H137.1 V443.3 H141.2 V430.7 H145 V462.2 H147.2 V480.6 H150 V435.2 H153.8 V462.2 H155.7 V480.6 H160.7 V467.3 H166.1 V480.6 H172 V467.3 H176 V467.3 H178.3 V449.6 H180.2 V447.1 H182.5 V430.7 H185.6 V480.6 H185.9 V467.3 H189.3 V480.6 H192.8 V467.3 H195.9 V480.6 H197.2 V462.2 H200.6 V480.6 H205.4 V446.5 H207.9 V448.2 H210.4 V462.2 H219.2 V480.6 H227 V467.3 H230.3 V480.6 H245.9 V449 H249.5 V480.6 H252.8 V467.3 H255.7 V480.6 H265.7 V467.3 H268.9 V480.6 H274.6 V467.3 H276.7 V462.2 H279.6 V480.6 H284.6 V449 H287.8 V480.6 H289 V467.3 H297.6 V448.8 H300.6 V467.3 H302.6 V480.6 H306 V443.3 H308.2 V438.9 H311.7 V462.2 H313.3 V462.9 H314.5 V441.4 H317.8 V464.1 H319.9 V480.6 H323 V462.2 H327.1 V449.6 H330.6 V480.6 H331.9 V448.8 H334.1 V439.6 H337.2 V462.2 H338.8 V480.6 H339.7 V455.9 H343.8 V480.6 H344.2 V429.1 H348 V467.3 H350 V480.6 H351.5 V462.2 H354.4 V480.6 H355.3 V462.2 H358.6 V480.6 H359.1 V462.2 H362.6 V480.6 H366.4 V467.3 H368.9 V480.6 H372.5 V449.3 H375.6 V480.6 H381.5 V461 H383.4 V443 H386.3 V465.4 H387.8 V480.6 H389.3 V448 H392.9 V474.2 H394.7 V480.6 H398.5 V448.8 H401.4 V480.6 H403.2 V448.8 H407 V462.2 H413.6 V462.2 H416.2 V462.2 H420 V462.2 H422 V480.6 H422.2 V462.2 H424.3 V480.6 H434.2 V445.2 H438 V480.6 H447.3 V462.2 H450.3 V480.6 H453.6 V462.2 H457 V467.3 H458.9 V467.3 H460.2 V461.6 H463.3 V467.3 H467.1 V448.8 H471.5 V480.6 H479.3 V462.2 H484.1 V467.3 H486.6 V480.6 H500.5 V462.2 H502.3 V480.6 H502.5 V462.2 H504.4 V480.6 H504.9 V461 H509 V462.2 H511.2 V448.8 H514.6 V480.6 H528.2 V469.2 H530 V463.5 H532.6 V448.6 H537.5 V467.3 H539.8 V480.6 H549.5 V462.2 H552.6 V480.6 H553.9 V420.7 H557.4 V438.9 H559.2 V474.2 H561.2 V480.6 H568.8 V461.9 H570.9 V480.6 H571.2 V461.9 H573.4 V480.6 H573.7 V461.9 H575.9 V467.3 H580.1 V480.6 H592.3 V467.3 H594.2 V447.5 H597.7 V467.3 H599.5 V480.6 H607.4 V446.5 H610.6 V474.2 H611.8 V469.2 H613.7 V462.2 H615.9 V439.6 H619.1 V461.9 H622.5 V467.3 H624.7 V467.3 H626.9 V462.2 H628.8 V443.7 H632 V480.6 H637.3 V462.2 H641.3 V433.6 H644.9 V480.6 H648.3 V462.2 H651.2 V467.3 H655.2 V480.6 H658.7 V461.9 H660.7 V480.6 H660.9 V461.9 H663 V480.6 H663.4 V461.3 H667.2 V448.8 H670.9 V431.6 H674.7 V480.6 H677.9 V467.3 H681 V480.6 H686.4 V461.9 H690.2 V447.5 H693.6 V467.3 H695.5 V480.6 H696.8 V461.9 H699.9 V467.3 H701.2 V467.3 H704.6 V480.6 H718.2 V448.8 H721.9 V480.6 H723.2 V461.9 H726.9 V449.6 H730 V467.3 H731.9 V480.6 H740.1 V461.9 H742 V449.6 H744.9 V480.6 H752.5 V461.9 H755.2 V447.5 H759.6 V467.3 H761.8 V480.6 H769.1 V461.9 H772.6 V467.3 H774.7 V480.6 H780.2 V467.3 H783.6 V480.6 H789 V467.3 H792 V480.6 H799.9 V447.5 H803.3 V467.3 H806.2 V480.6 H808.1 V462.2 H811.6 V480.6 H827.6 V461 H830.1 V438.3 H834.5 V448 H837 V448 H840.8 V480.6 H844.6 V461.9 H847.5 V480.6 H853 V461.3 H857.8 V461.9 H861 V461.9 H864.1 V448 H868.5 V448 H870.4 V433.9 H873.5 V461.9 H877.3 V467.3 H883 V447.1 H888 V480.6 H889.9 V467.3 H891.2 V462.2 H896.2 V467.3 H898.3 V480.6 H898.5 V467.3 H900.6 V480.6 H904.4 V467.3 H906.9 V461.9 H913.5 V480.6 H917 V448 H920.4 V467.3 H922.1 V480.6 H925.2 V461.9 H928.4 V480.6 H932.2 V461.9 H936.3 V461.9 H938.5 V447.5 H941.9 V466.6 H945.4 V480.6 H949.2 V462.2 H952.3 V480.6 H958 V448.4 H963.6 V474.2 H964.9 V480.6 H971" fill="none" stroke="#f08080" stroke-width="1.6" stroke-linejoin="round"/>
</g>
<path d="M405,110.5 V238 M405,250.8 V318.9 M408.6,331.6 V399.9 M405,412.6 V481" fill="none" stroke="#bcbec3" stroke-width="1" stroke-dasharray="3,3"/>
<circle cx="405" cy="201.3" r="2.6" fill="#fff" stroke="#22c596" stroke-width="1.2"/>
<circle cx="408.6" cy="380" r="2.6" fill="#fff" fill-opacity="0.6" stroke="#e6d25a" stroke-width="1.2"/>
<circle cx="405" cy="448.8" r="2.6" fill="#fff" stroke="#ee7272" stroke-width="1.2"/>
</svg>
<div class="tipbg"></div>
<div class="tip">
<span id="t_date" style="left:7.5px;top:10px;letter-spacing:0.12px">06/11/2022</span>
<i style="top:31.7px;background:#21c696"></i>
<span id="t_l1" style="left:23.5px;top:28px;letter-spacing:-0.23px">Floating P/L</span>
<span id="t_v1" style="left:113.1px;top:28px;letter-spacing:-0.37px">140176.614048811</span>
<i style="top:50px;background:#1db182"></i>
<span id="t_l2" style="left:23.5px;top:46px;letter-spacing:-0.42px">Period P/L</span>
<span id="t_v2" style="left:126.9px;top:46px;letter-spacing:-0.43px">8019.868188626</span>
<i style="top:67.7px;background:#5470c6"></i>
<span id="t_l3" style="left:23.5px;top:64px;letter-spacing:-0.82px">Volume(XRPUSDT)</span>
<span id="t_v3" style="left:161.7px;top:64px;letter-spacing:-0.42px">4622454.8</span>
<i style="top:85.8px;background:#90ca76"></i>
<span id="t_l4" style="left:23.5px;top:82px;letter-spacing:-0.96px">Long(XRPUSDT)</span>
<span id="t_v4" style="left:214px;top:82px;letter-spacing:0px">0</span>
<i style="top:103.5px;background:#f8c659"></i>
<span id="t_l5" style="left:23.5px;top:99px;letter-spacing:-0.86px">Short(XRPUSDT)</span>
<span id="t_v5" style="left:214px;top:99px;letter-spacing:0px">0</span>
<i style="top:121.3px;background:#e9626a"></i>
<span id="t_l6" style="left:23.5px;top:117px;letter-spacing:-0.55px">Fund Rate</span>
<span id="t_v6" style="left:179.3px;top:117px;letter-spacing:-0.64px">23.18%</span>
</div>
<div class="lg">
<i style="left:229.5px;background:#21c696"></i>
<span id="t_g1" style="left:251.1px;letter-spacing:0.02px;">Floating P/L</span>
<i style="left:317.9px;background:#1db182"></i>
<span id="t_g2" style="left:339.2px;letter-spacing:-0.04px;">Period P/L</span>
<i style="left:397.7px;background:#5470c6"></i>
<span id="t_g3" style="left:418.3px;letter-spacing:-0.3px;">Volume(XRPUSDT)</span>
<i style="left:516.4px;background:#90ca76"></i>
<span id="t_g4" style="left:538.3px;letter-spacing:-0.42px;">Long(XRPUSDT)</span>
<i style="left:623.6px;background:#f8c659"></i>
<span id="t_g5" style="left:645.5px;letter-spacing:-0.35px;">Short(XRPUSDT)</span>
<i style="left:732.9px;background:#e9626a"></i>
<span id="t_g6" style="left:755.1px;letter-spacing:-0.15px;">Fund Rate</span>
</div>
</body></html>
